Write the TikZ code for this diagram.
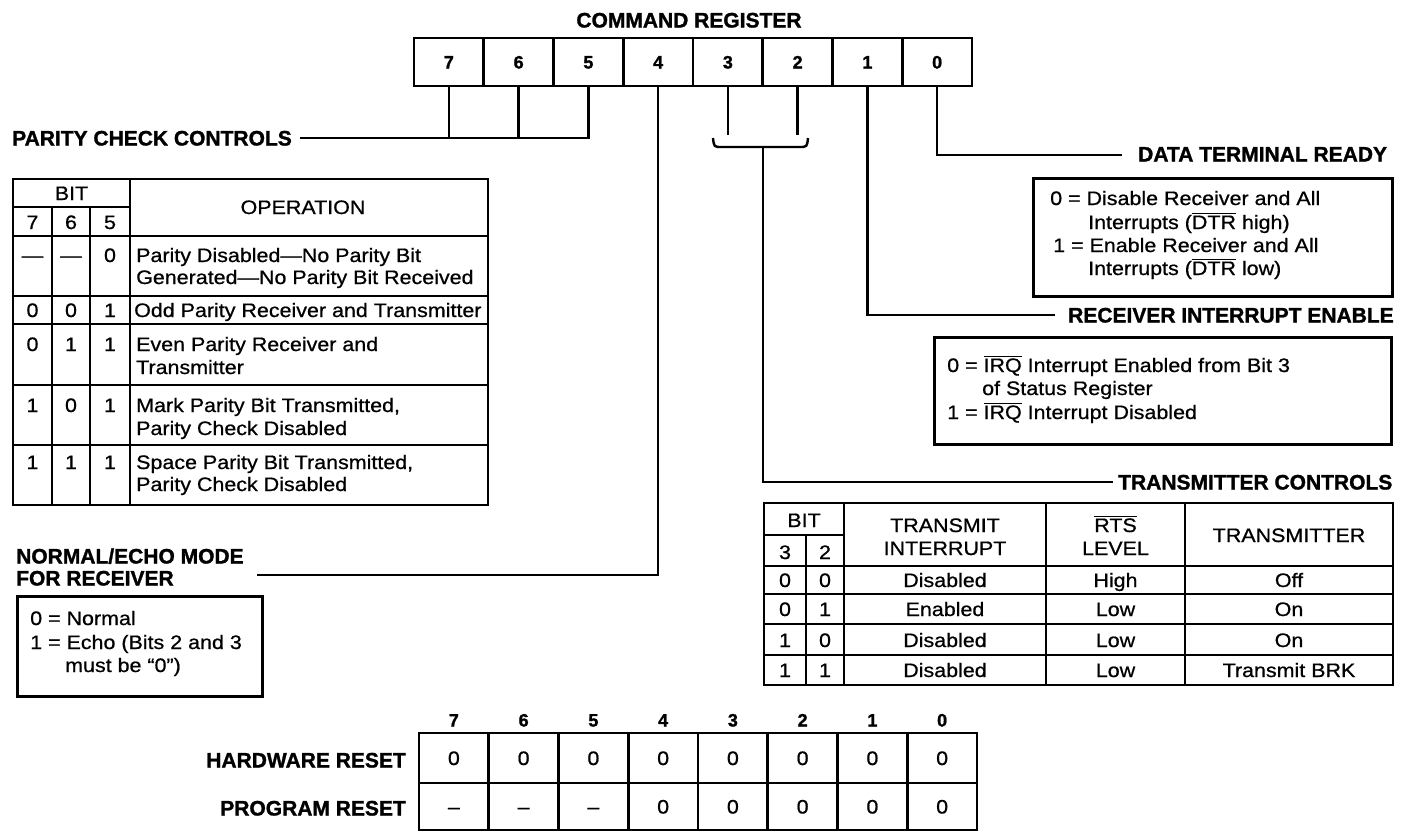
\documentclass[tikz,border=0pt]{standalone}
\usepackage{fontspec}
\newfontfamily\bodyf[FakeStretch=1.1,FakeBold=0.7]{Liberation Sans}
\newfontfamily\headf[FakeBold=1.3]{Liberation Sans Bold}
\newcommand\myoverline[1]{\leavevmode\vbox{\hrule height 1.4pt\kern 1.3pt\hbox{#1}}}
\begin{document}
\begin{tikzpicture}[x=1pt,y=-1pt,
  txt/.style={font=\bodyf\fontsize{19.5}{23}\selectfont, inner sep=0pt, anchor=base west},
  txtc/.style={txt, anchor=base},
  hd/.style={font=\headf\fontsize{21}{24}\selectfont, inner sep=0pt, anchor=base west},
  regcell/.style={draw, line width=2.8pt, minimum width=69.75pt, minimum height=48pt, inner sep=0pt,
    text height=13pt, text depth=0pt, font=\headf\fontsize{18}{20}\selectfont},
  reshead/.style={inner sep=0pt, anchor=base, font=\headf\fontsize{18}{20}\selectfont},
  rescell/.style={draw, line width=2.6pt, minimum width=69.75pt, inner sep=0pt,
    text height=14pt, text depth=0pt, font=\bodyf\fontsize{19.5}{23}\selectfont},
  frame/.style={draw, line width=2.6pt, inner sep=0pt, anchor=north west},
  tab/.style={line width=2.6pt},
  conn/.style={line width=2.4pt}]
\useasboundingbox (0,0) rectangle (1403,831);
\fill[white] (0,0) rectangle (1403,831);

% ---------- command register ----------
\node[hd, anchor=base] (title) at (689,27.5) {COMMAND REGISTER};
\foreach \b [count=\i from 0] in {7,6,5,4,3,2,1,0}
  \node[regcell] (r\b) at ({414+69.75*(\i+0.5)},62) {\b};

% ---------- connectors ----------
\coordinate (parend) at (300,138);
\draw[conn] (r5.south) |- (parend);
\draw[conn] (r7.south) -- (r7.south |- parend);
\draw[conn] (r6.south) -- (r6.south |- parend);
\node[hd] (parlbl) at (12,145.5) {PARITY CHECK CONTROLS};

\coordinate (echoend) at (257,575);
\draw[conn] (r4.south) |- (echoend);

\coordinate (brk) at (763,135);
\draw[conn] (r3.south) -- (r3.south |- brk);
\draw[conn] (r2.south) -- (r2.south |- brk);
\coordinate (brL) at (713,138);
\coordinate (brR) at (808,138);
\coordinate (brmid) at (763,147);
\draw[conn] (brL) .. controls (714,147) .. (722,147) -- (799,147) .. controls (807,147) .. (brR);
\coordinate (tcend) at (1113,482);
\draw[conn] (brmid) |- (tcend);
\node[hd] (tclbl) at (1118,489.5) {TRANSMITTER CONTROLS};

\coordinate (rieend) at (1055,315);
\draw[conn] (r1.south) |- (rieend);
\node[hd] (rielbl) at (1068,322.5) {RECEIVER INTERRUPT ENABLE};

\coordinate (dtrend) at (1122,155);
\draw[conn] (r0.south) |- (dtrend);
\node[hd] (dtrlbl) at (1138,161.5) {DATA TERMINAL READY};

% ---------- DTR box ----------
\node[frame, minimum width=359pt, minimum height=118pt] (dtrbox) at (1032,177) {};
\node[txt] (d1) at (1050,205) {0 = Disable Receiver and All};
\node[txt] (d2) at (1088,229) {Interrupts (\myoverline{DTR} high)};
\node[txt] (d3) at (1053,252) {1 = Enable Receiver and All};
\node[txt] (d4) at (1088,275) {Interrupts (\myoverline{DTR} low)};

% ---------- RIE box ----------
\node[frame, minimum width=457pt, minimum height=107pt] (riebox) at (933,336) {};
\node[txt] (q1) at (947,372) {0 = \myoverline{IRQ} Interrupt Enabled from Bit 3};
\node[txt] (q2) at (982,395) {of Status Register};
\node[txt] (q3) at (947,419) {1 = \myoverline{IRQ} Interrupt Disabled};

% ---------- parity table ----------
\draw[tab] (13,179) rectangle (488,505);
\draw[tab] (13,207) -- (130,207);
\draw[tab] (52,207) -- (52,505);
\draw[tab] (90,207) -- (90,505);
\draw[tab] (130,179) -- (130,505);
\foreach \yy in {236,296,324,385,445} \draw[tab] (13,\yy) -- (488,\yy);
\node[txtc] (pbit) at (71.5,200) {BIT};
\node[txtc] (ph7) at (32.5,229) {7};
\node[txtc] (ph6) at (71,229) {6};
\node[txtc] (ph5) at (110,229) {5};
\node[txtc] (pop) at (303,214) {OPERATION};
% row 1
\node[txtc] (pa7) at (32.5,262) {—};
\node[txtc] (pa6) at (71,262) {—};
\node[txtc] (pa5) at (110,262) {0};
\node[txt] (pat1) at (136,262) {Parity Disabled—No Parity Bit};
\node[txt] (pat2) at (136,284) {Generated—No Parity Bit Received};
% row 2
\node[txtc] (pb7) at (32.5,317) {0};
\node[txtc] (pb6) at (71,317) {0};
\node[txtc] (pb5) at (110,317) {1};
\node[txt] (pbt1) at (134,317) {Odd Parity Receiver and Transmitter};
% row 3
\node[txtc] (pc7) at (32.5,351) {0};
\node[txtc] (pc6) at (71,351) {1};
\node[txtc] (pc5) at (110,351) {1};
\node[txt] (pct1) at (136,351) {Even Parity Receiver and};
\node[txt] (pct2) at (136,374) {Transmitter};
% row 4
\node[txtc] (pd7) at (32.5,412) {1};
\node[txtc] (pd6) at (71,412) {0};
\node[txtc] (pd5) at (110,412) {1};
\node[txt] (pdt1) at (136,412) {Mark Parity Bit Transmitted,};
\node[txt] (pdt2) at (136,435) {Parity Check Disabled};
% row 5
\node[txtc] (pe7) at (32.5,469) {1};
\node[txtc] (pe6) at (71,469) {1};
\node[txtc] (pe5) at (110,469) {1};
\node[txt] (pet1) at (136,469) {Space Parity Bit Transmitted,};
\node[txt] (pet2) at (136,491) {Parity Check Disabled};

% ---------- normal / echo ----------
\node[hd] (nelbl1) at (16,563.5) {NORMAL/ECHO MODE};
\node[hd] (nelbl2) at (16,585.5) {FOR RECEIVER};
\node[frame, minimum width=245pt, minimum height=100pt] (echobox) at (16,595) {};
\node[txt] (e1) at (30,625) {0 = Normal};
\node[txt] (e2) at (30,649) {1 = Echo (Bits 2 and 3};
\node[txt] (e3) at (65,672) {must be “0”)};

% ---------- transmitter controls table ----------
\draw[tab] (764,503) rectangle (1393,685);
\draw[tab] (764,535) -- (844,535);
\draw[tab] (806,535) -- (806,685);
\foreach \xx in {844,1046,1185} \draw[tab] (\xx,503) -- (\xx,685);
\foreach \yy in {566,594,624,655} \draw[tab] (764,\yy) -- (1393,\yy);
\node[txtc] (tbit) at (804,527) {BIT};
\node[txtc] (th3) at (785,559) {3};
\node[txtc] (th2) at (825,559) {2};
\node[txtc] (tti1) at (945,532) {TRANSMIT};
\node[txtc] (tti2) at (945,555) {INTERRUPT};
\node[txtc] (trts1) at (1115.5,532) {\myoverline{RTS}};
\node[txtc] (trts2) at (1115.5,555) {LEVEL};
\node[txtc] (ttr) at (1289,542) {TRANSMITTER};
\foreach \yy/\a/\b/\c/\d/\e [count=\k] in
  {587/0/0/Disabled/High/Off, 616/0/1/Enabled/Low/On,
   647/1/0/Disabled/Low/On, 677/1/1/Disabled/Low/Transmit BRK} {
  \node[txtc] (tx\k a) at (785,\yy) {\a};
  \node[txtc] (tx\k b) at (825,\yy) {\b};
  \node[txtc] (tx\k c) at (945,\yy) {\c};
  \node[txtc] (tx\k d) at (1115.5,\yy) {\d};
  \node[txtc] (tx\k e) at (1289,\yy) {\e};
}

% ---------- reset table ----------
\node[hd, anchor=base east] (hwlbl) at (406,767.5) {HARDWARE RESET};
\node[hd, anchor=base east] (pglbl) at (406,815.5) {PROGRAM RESET};
\foreach \b/\v [count=\i from 0] in {7/–,6/–,5/–,4/0,3/0,2/0,1/0,0/0} {
  \node[reshead] (rh\b) at ({419+69.75*(\i+0.5)},726.5) {\b};
  \node[rescell, minimum height=50pt] (hw\b) at ({419+69.75*(\i+0.5)},758) {0};
  \node[rescell, minimum height=47pt] (pg\b) at ({419+69.75*(\i+0.5)},806.5) {\v};
}
\end{tikzpicture}
\end{document}
